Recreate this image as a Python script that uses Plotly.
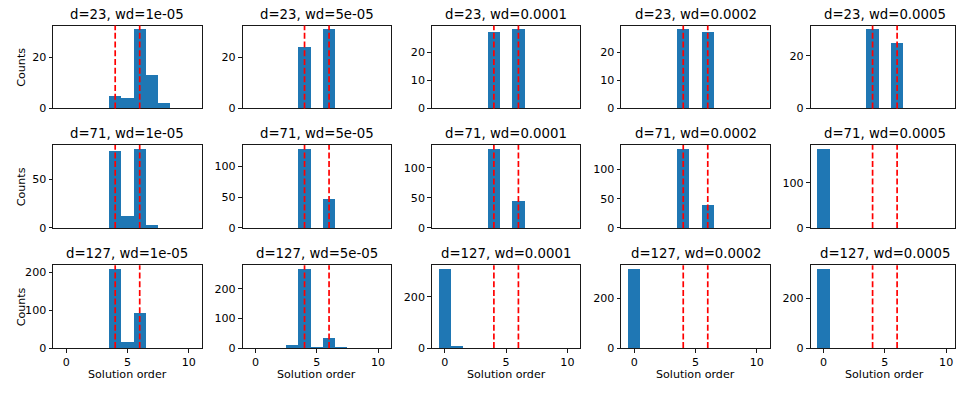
import plotly.graph_objects as go

# ---------------- data ----------------
d_values = [23, 71, 127]
wd_labels = ["1e-05", "5e-05", "0.0001", "0.0002", "0.0005"]
bin_centers = [0, 1, 2, 3, 4, 5, 6, 7, 8, 9, 10]
ref_orders = [4, 6]
x_ticks = [0, 5, 10]

# counts per bin (bins centred on 0..10)
d23_wd1e05 = [0, 0, 0, 0, 5, 4, 31, 13, 2, 0, 0]
d23_wd5e05 = [0, 0, 0, 0, 24, 0, 31, 0, 0, 0, 0]
d23_wd1e04 = [0, 0, 0, 0, 27, 0, 28, 0, 0, 0, 0]
d23_wd2e04 = [0, 0, 0, 0, 28, 0, 27, 0, 0, 0, 0]
d23_wd5e04 = [0, 0, 0, 0, 30, 0, 25, 0, 0, 0, 0]

d71_wd1e05 = [0, 0, 0, 0, 79, 12, 81, 3, 0, 0, 0]
d71_wd5e05 = [0, 0, 0, 0, 128, 0, 47, 0, 0, 0, 0]
d71_wd1e04 = [0, 0, 0, 0, 131, 0, 44, 0, 0, 0, 0]
d71_wd2e04 = [0, 0, 0, 0, 135, 0, 40, 0, 0, 0, 0]
d71_wd5e04 = [175, 0, 0, 0, 0, 0, 0, 0, 0, 0, 0]

d127_wd1e05 = [0, 0, 0, 0, 208, 16, 93, 0, 0, 0, 0]
d127_wd5e05 = [1, 0, 0, 11, 266, 3, 33, 3, 0, 0, 0]
d127_wd1e04 = [307, 9, 0, 0, 0, 0, 0, 0, 0, 0, 1]
d127_wd2e04 = [317, 0, 0, 0, 0, 0, 0, 0, 0, 0, 0]
d127_wd5e04 = [317, 0, 0, 0, 0, 0, 0, 0, 0, 0, 0]

y_ticks_d23 = [[0, 20], [0, 20], [0, 10, 20], [0, 10, 20], [0, 20]]
y_ticks_d71 = [[0, 50], [0, 50, 100], [0, 50, 100], [0, 50, 100], [0, 100]]
y_ticks_d127 = [[0, 100, 200], [0, 100, 200], [0, 200], [0, 200], [0, 200]]

grid = [
    [d23_wd1e05, d23_wd5e05, d23_wd1e04, d23_wd2e04, d23_wd5e04],
    [d71_wd1e05, d71_wd5e05, d71_wd1e04, d71_wd2e04, d71_wd5e04],
    [d127_wd1e05, d127_wd5e05, d127_wd1e04, d127_wd2e04, d127_wd5e04],
]
y_ticks = [y_ticks_d23, y_ticks_d71, y_ticks_d127]

# ---------------- layout geometry (pixels) ----------------
W, H = 956, 395
col_left = [53.3, 242.65, 432.0, 621.35, 810.7]
col_w = 148.3
row_top = [26.0, 147.7, 270.0]
row_h = 84.4
x_lo, x_hi = -1.05, 11.05

FONT = "DejaVu Sans"
BLUE = "#1f77b4"

fig = go.Figure()
annotations = []
shapes = []
layout_axes = {}

for r in range(3):
    for c in range(5):
        idx = r * 5 + c + 1
        xa = "x" if idx == 1 else f"x{idx}"
        ya = "y" if idx == 1 else f"y{idx}"
        xkey = "xaxis" if idx == 1 else f"xaxis{idx}"
        ykey = "yaxis" if idx == 1 else f"yaxis{idx}"
        counts = grid[r][c]

        fig.add_trace(go.Bar(
            x=bin_centers, y=counts, width=1.0,
            marker=dict(color=BLUE, line=dict(width=0)),
            xaxis=xa, yaxis=ya, showlegend=False,
        ))

        left = col_left[c]
        right = left + col_w
        xr = [x_lo, x_hi]
        if right > W - 1:
            # clipped at the image edge like the reference
            xr = [x_lo, x_lo + (W - 1 - left) / col_w * (x_hi - x_lo)]
            right = W - 1
        top = row_top[r]
        bot = top + row_h
        xdom = [left / W, right / W]
        ydom = [(H - bot) / H, (H - top) / H]

        ymax = max(counts) * 1.05
        bottom_row = (r == 2)
        layout_axes[xkey] = dict(
            domain=xdom, range=xr, anchor=ya,
            showline=True, linecolor="black", linewidth=0.9, mirror=True,
            showgrid=False, zeroline=False,
            ticks="outside" if bottom_row else "",
            ticklen=3.9, tickwidth=0.9, tickcolor="black",
            tickvals=x_ticks if bottom_row else [],
            showticklabels=bottom_row,
            tickfont=dict(family=FONT, size=11.1, color="black"),
        )
        layout_axes[ykey] = dict(
            domain=ydom, range=[0, ymax], anchor=xa,
            showline=True, linecolor="black", linewidth=0.9, mirror=True,
            showgrid=False, zeroline=False,
            ticks="outside", ticklen=3.9, tickwidth=0.9, tickcolor="black",
            tickvals=y_ticks[r][c],
            tickfont=dict(family=FONT, size=11.1, color="black"),
        )

        # reference dashed lines
        for xv in ref_orders:
            shapes.append(dict(
                type="line", xref=xa, yref=f"{ya} domain",
                x0=xv, x1=xv, y0=0, y1=1,
                line=dict(color="red", width=1.7, dash="6px,2.7px"),
            ))

        # subplot title
        annotations.append(dict(
            text=f"d={d_values[r]}, wd={wd_labels[c]}",
            xref="paper", yref="paper",
            x=(col_left[c] + col_w / 2) / W, y=(H - top) / H,
            xanchor="center", yanchor="bottom", yshift=2,
            showarrow=False,
            font=dict(family=FONT, size=13.3, color="black"),
        ))

    # Counts label on first column
    annotations.append(dict(
        text="Counts", xref="paper", yref="paper",
        x=21.7 / W, y=(H - (row_top[r] + row_h / 2)) / H,
        xanchor="center", yanchor="middle", textangle=-90,
        showarrow=False,
        font=dict(family=FONT, size=11.1, color="black"),
    ))

for c in range(5):
    annotations.append(dict(
        text="Solution order", xref="paper", yref="paper",
        x=(col_left[c] + col_w / 2) / W, y=(H - 381.7) / H,
        xanchor="center", yanchor="middle",
        showarrow=False,
        font=dict(family=FONT, size=11.1, color="black"),
    ))

fig.update_layout(
    width=W, height=H,
    margin=dict(l=0, r=0, t=0, b=0),
    paper_bgcolor="white", plot_bgcolor="white",
    bargap=0, barmode="overlay",
    annotations=annotations, shapes=shapes,
    font=dict(family=FONT, color="black"),
    hovermode=False,
    **layout_axes,
)

fig.write_html(
    "out.html",
    config={"displayModeBar": False, "staticPlot": True},
    post_script="document.body.style.margin='0';document.body.style.overflow='hidden';",
)
